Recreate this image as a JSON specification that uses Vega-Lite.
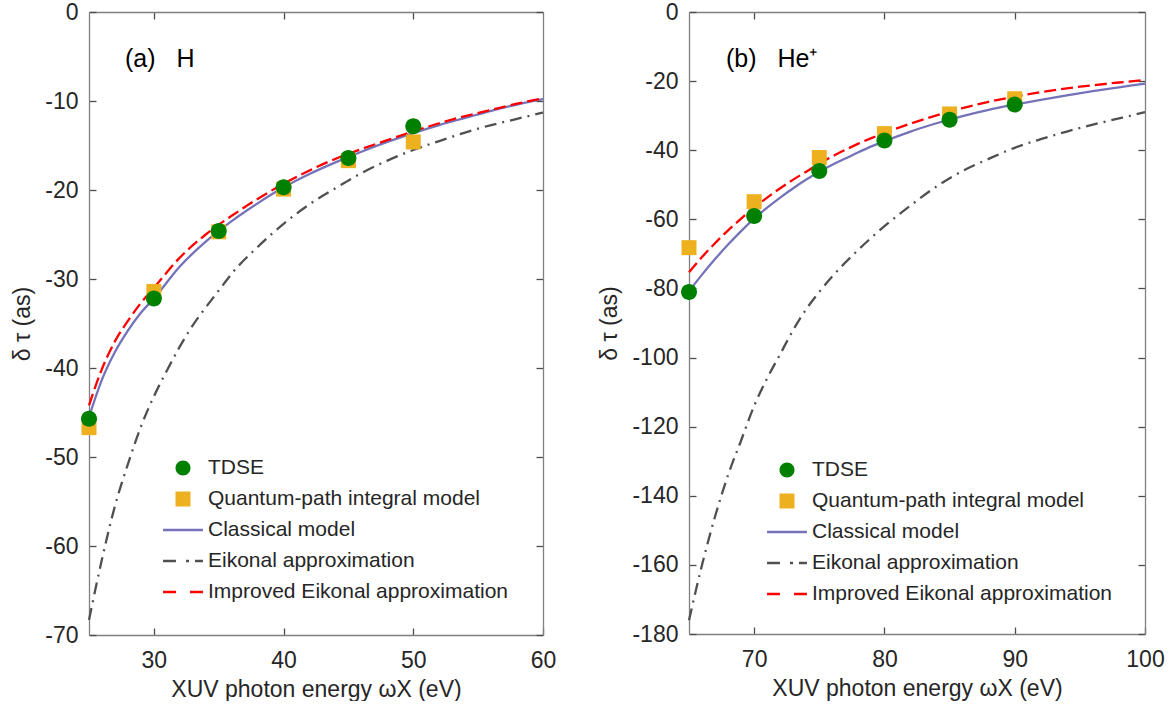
{
  "$schema": "https://vega.github.io/schema/vega-lite/v6.json",
  "padding": {"left": 11, "top": 1, "right": 0, "bottom": 0},
  "spacing": 42,
  "config": {
    "font": "Liberation Sans",
    "view": {"stroke": null},
    "axis": {
      "grid": false,
      "domainColor": "#808080",
      "domainWidth": 1.3,
      "tickColor": "#4d4d4d",
      "tickWidth": 1.3,
      "tickSize": -7,
      "labelFontSize": 23,
      "titleFontSize": 23,
      "titleFontWeight": "normal",
      "labelColor": "#262626",
      "titleColor": "#262626",
      "labelFlush": false,
      "labelOverlap": false,
      "labelExpr": "'' + datum.value"
    },
    "legend": {
      "title": null,
      "symbolSize": 900,
      "symbolStrokeWidth": 0,
      "symbolOpacity": 1,
      "labelFontSize": 21,
      "labelColor": "#262626",
      "labelOffset": 10,
      "rowPadding": 6,
      "labelLimit": 400
    },
    "title": {"fontSize": 25, "fontWeight": "normal", "color": "#000000", "anchor": "start", "frame": "group"}
  },
  "datasets": {
    "H": [
      {"x": 25, "y": -45.7, "s": "TDSE"}, {"x": 30, "y": -32.2, "s": "TDSE"}, {"x": 35, "y": -24.6, "s": "TDSE"}, {"x": 40, "y": -19.7, "s": "TDSE"}, {"x": 45, "y": -16.4, "s": "TDSE"}, {"x": 50, "y": -12.85, "s": "TDSE"},
      {"x": 25, "y": -46.7, "s": "Quantum-path integral model"}, {"x": 30, "y": -31.4, "s": "Quantum-path integral model"}, {"x": 35, "y": -24.7, "s": "Quantum-path integral model"}, {"x": 40, "y": -19.9, "s": "Quantum-path integral model"}, {"x": 45, "y": -16.7, "s": "Quantum-path integral model"}, {"x": 50, "y": -14.6, "s": "Quantum-path integral model"},
      {"x": 25, "y": -45.5, "s": "Classical model"}, {"x": 26, "y": -41.3, "s": "Classical model"}, {"x": 27, "y": -38.2, "s": "Classical model"}, {"x": 28, "y": -35.8, "s": "Classical model"}, {"x": 29, "y": -33.8, "s": "Classical model"}, {"x": 30, "y": -32.2, "s": "Classical model"}, {"x": 32, "y": -28.6, "s": "Classical model"}, {"x": 34, "y": -25.8, "s": "Classical model"}, {"x": 35, "y": -24.6, "s": "Classical model"}, {"x": 36, "y": -23.5, "s": "Classical model"}, {"x": 38, "y": -21.5, "s": "Classical model"}, {"x": 40, "y": -19.7, "s": "Classical model"}, {"x": 42, "y": -18.2, "s": "Classical model"}, {"x": 44, "y": -16.9, "s": "Classical model"}, {"x": 46, "y": -15.7, "s": "Classical model"}, {"x": 48, "y": -14.6, "s": "Classical model"}, {"x": 50, "y": -13.6, "s": "Classical model"}, {"x": 52, "y": -12.7, "s": "Classical model"}, {"x": 54, "y": -11.9, "s": "Classical model"}, {"x": 56, "y": -11.1, "s": "Classical model"}, {"x": 58, "y": -10.4, "s": "Classical model"}, {"x": 60, "y": -9.8, "s": "Classical model"},
      {"x": 25, "y": -68.3, "s": "Eikonal approximation"}, {"x": 26, "y": -61.5, "s": "Eikonal approximation"}, {"x": 27, "y": -55.5, "s": "Eikonal approximation"}, {"x": 28, "y": -50.8, "s": "Eikonal approximation"}, {"x": 29, "y": -46.6, "s": "Eikonal approximation"}, {"x": 30, "y": -43.2, "s": "Eikonal approximation"}, {"x": 31, "y": -40.3, "s": "Eikonal approximation"}, {"x": 32, "y": -37.6, "s": "Eikonal approximation"}, {"x": 33, "y": -35.2, "s": "Eikonal approximation"}, {"x": 34, "y": -33.2, "s": "Eikonal approximation"}, {"x": 35, "y": -31.3, "s": "Eikonal approximation"}, {"x": 36, "y": -29.4, "s": "Eikonal approximation"}, {"x": 38, "y": -26.4, "s": "Eikonal approximation"}, {"x": 40, "y": -23.8, "s": "Eikonal approximation"}, {"x": 42, "y": -21.6, "s": "Eikonal approximation"}, {"x": 44, "y": -19.8, "s": "Eikonal approximation"}, {"x": 46, "y": -18.1, "s": "Eikonal approximation"}, {"x": 48, "y": -16.7, "s": "Eikonal approximation"}, {"x": 50, "y": -15.5, "s": "Eikonal approximation"}, {"x": 52, "y": -14.5, "s": "Eikonal approximation"}, {"x": 55, "y": -13.1, "s": "Eikonal approximation"}, {"x": 58, "y": -12.0, "s": "Eikonal approximation"}, {"x": 60, "y": -11.3, "s": "Eikonal approximation"},
      {"x": 25, "y": -44.2, "s": "Improved Eikonal approximation"}, {"x": 26, "y": -40.1, "s": "Improved Eikonal approximation"}, {"x": 27, "y": -37.0, "s": "Improved Eikonal approximation"}, {"x": 28, "y": -34.7, "s": "Improved Eikonal approximation"}, {"x": 29, "y": -32.7, "s": "Improved Eikonal approximation"}, {"x": 30, "y": -31.0, "s": "Improved Eikonal approximation"}, {"x": 32, "y": -27.6, "s": "Improved Eikonal approximation"}, {"x": 34, "y": -25.0, "s": "Improved Eikonal approximation"}, {"x": 35, "y": -23.9, "s": "Improved Eikonal approximation"}, {"x": 36, "y": -22.9, "s": "Improved Eikonal approximation"}, {"x": 38, "y": -21.0, "s": "Improved Eikonal approximation"}, {"x": 40, "y": -19.3, "s": "Improved Eikonal approximation"}, {"x": 42, "y": -17.8, "s": "Improved Eikonal approximation"}, {"x": 44, "y": -16.5, "s": "Improved Eikonal approximation"}, {"x": 46, "y": -15.4, "s": "Improved Eikonal approximation"}, {"x": 48, "y": -14.4, "s": "Improved Eikonal approximation"}, {"x": 50, "y": -13.4, "s": "Improved Eikonal approximation"}, {"x": 52, "y": -12.5, "s": "Improved Eikonal approximation"}, {"x": 54, "y": -11.7, "s": "Improved Eikonal approximation"}, {"x": 56, "y": -11.0, "s": "Improved Eikonal approximation"}, {"x": 58, "y": -10.3, "s": "Improved Eikonal approximation"}, {"x": 60, "y": -9.7, "s": "Improved Eikonal approximation"}
    ],
    "He": [
      {"x": 65, "y": -81.0, "s": "TDSE"}, {"x": 70, "y": -59.0, "s": "TDSE"}, {"x": 75, "y": -46.0, "s": "TDSE"}, {"x": 80, "y": -37.2, "s": "TDSE"}, {"x": 85, "y": -31.2, "s": "TDSE"}, {"x": 90, "y": -26.8, "s": "TDSE"},
      {"x": 65, "y": -68.2, "s": "Quantum-path integral model"}, {"x": 70, "y": -54.9, "s": "Quantum-path integral model"}, {"x": 75, "y": -42.1, "s": "Quantum-path integral model"}, {"x": 80, "y": -35.2, "s": "Quantum-path integral model"}, {"x": 85, "y": -29.5, "s": "Quantum-path integral model"}, {"x": 90, "y": -25.1, "s": "Quantum-path integral model"},
      {"x": 65, "y": -80.8, "s": "Classical model"}, {"x": 66, "y": -76.0, "s": "Classical model"}, {"x": 67, "y": -71.5, "s": "Classical model"}, {"x": 68, "y": -67.3, "s": "Classical model"}, {"x": 69, "y": -63.4, "s": "Classical model"}, {"x": 70, "y": -59.8, "s": "Classical model"}, {"x": 71, "y": -56.6, "s": "Classical model"}, {"x": 72, "y": -53.7, "s": "Classical model"}, {"x": 73, "y": -51.0, "s": "Classical model"}, {"x": 74, "y": -48.5, "s": "Classical model"}, {"x": 75, "y": -46.2, "s": "Classical model"}, {"x": 76, "y": -44.2, "s": "Classical model"}, {"x": 77, "y": -42.4, "s": "Classical model"}, {"x": 78, "y": -40.6, "s": "Classical model"}, {"x": 79, "y": -38.9, "s": "Classical model"}, {"x": 80, "y": -37.4, "s": "Classical model"}, {"x": 82, "y": -34.6, "s": "Classical model"}, {"x": 84, "y": -32.2, "s": "Classical model"}, {"x": 86, "y": -30.1, "s": "Classical model"}, {"x": 88, "y": -28.3, "s": "Classical model"}, {"x": 90, "y": -26.8, "s": "Classical model"}, {"x": 92, "y": -25.4, "s": "Classical model"}, {"x": 94, "y": -24.1, "s": "Classical model"}, {"x": 96, "y": -22.9, "s": "Classical model"}, {"x": 98, "y": -21.8, "s": "Classical model"}, {"x": 100, "y": -20.7, "s": "Classical model"},
      {"x": 65, "y": -176.0, "s": "Eikonal approximation"}, {"x": 66, "y": -160.0, "s": "Eikonal approximation"}, {"x": 67, "y": -146.0, "s": "Eikonal approximation"}, {"x": 68, "y": -134.0, "s": "Eikonal approximation"}, {"x": 69, "y": -124.0, "s": "Eikonal approximation"}, {"x": 70, "y": -114.0, "s": "Eikonal approximation"}, {"x": 71, "y": -106.0, "s": "Eikonal approximation"}, {"x": 72, "y": -99.0, "s": "Eikonal approximation"}, {"x": 73, "y": -92.0, "s": "Eikonal approximation"}, {"x": 74, "y": -86.0, "s": "Eikonal approximation"}, {"x": 75, "y": -81.0, "s": "Eikonal approximation"}, {"x": 76, "y": -76.5, "s": "Eikonal approximation"}, {"x": 77, "y": -72.5, "s": "Eikonal approximation"}, {"x": 78, "y": -68.8, "s": "Eikonal approximation"}, {"x": 79, "y": -65.3, "s": "Eikonal approximation"}, {"x": 80, "y": -62.0, "s": "Eikonal approximation"}, {"x": 82, "y": -56.0, "s": "Eikonal approximation"}, {"x": 84, "y": -50.5, "s": "Eikonal approximation"}, {"x": 86, "y": -46.0, "s": "Eikonal approximation"}, {"x": 88, "y": -42.5, "s": "Eikonal approximation"}, {"x": 90, "y": -39.3, "s": "Eikonal approximation"}, {"x": 92, "y": -36.8, "s": "Eikonal approximation"}, {"x": 94, "y": -34.6, "s": "Eikonal approximation"}, {"x": 96, "y": -32.6, "s": "Eikonal approximation"}, {"x": 98, "y": -30.8, "s": "Eikonal approximation"}, {"x": 100, "y": -29.0, "s": "Eikonal approximation"},
      {"x": 65, "y": -75.3, "s": "Improved Eikonal approximation"}, {"x": 66, "y": -70.9, "s": "Improved Eikonal approximation"}, {"x": 67, "y": -66.9, "s": "Improved Eikonal approximation"}, {"x": 68, "y": -63.2, "s": "Improved Eikonal approximation"}, {"x": 69, "y": -59.8, "s": "Improved Eikonal approximation"}, {"x": 70, "y": -56.6, "s": "Improved Eikonal approximation"}, {"x": 71, "y": -53.7, "s": "Improved Eikonal approximation"}, {"x": 72, "y": -51.0, "s": "Improved Eikonal approximation"}, {"x": 73, "y": -48.5, "s": "Improved Eikonal approximation"}, {"x": 74, "y": -46.2, "s": "Improved Eikonal approximation"}, {"x": 75, "y": -43.9, "s": "Improved Eikonal approximation"}, {"x": 76, "y": -41.8, "s": "Improved Eikonal approximation"}, {"x": 77, "y": -39.9, "s": "Improved Eikonal approximation"}, {"x": 78, "y": -38.1, "s": "Improved Eikonal approximation"}, {"x": 79, "y": -36.5, "s": "Improved Eikonal approximation"}, {"x": 80, "y": -35.0, "s": "Improved Eikonal approximation"}, {"x": 82, "y": -32.3, "s": "Improved Eikonal approximation"}, {"x": 84, "y": -29.9, "s": "Improved Eikonal approximation"}, {"x": 86, "y": -27.8, "s": "Improved Eikonal approximation"}, {"x": 88, "y": -26.0, "s": "Improved Eikonal approximation"}, {"x": 90, "y": -24.5, "s": "Improved Eikonal approximation"}, {"x": 92, "y": -23.2, "s": "Improved Eikonal approximation"}, {"x": 94, "y": -22.1, "s": "Improved Eikonal approximation"}, {"x": 96, "y": -21.2, "s": "Improved Eikonal approximation"}, {"x": 98, "y": -20.4, "s": "Improved Eikonal approximation"}, {"x": 100, "y": -19.7, "s": "Improved Eikonal approximation"}
    ]
  },
  "hconcat": [
    {
      "width": 454,
      "height": 623,
      "data": {"name": "H"},
      "title": {"text": "(a)\u00a0\u00a0\u00a0H", "dx": 36, "offset": -71},
      "layer": [
        {
          "transform": [{"filter": "datum.s === 'Classical model'"}],
          "mark": {"type": "line", "color": "#7472B9", "strokeWidth": 2.3, "interpolate": "monotone"},
          "encoding": {
            "x": {"field": "x", "type": "quantitative", "scale": {"domain": [25, 60], "nice": false, "zero": false}, "axis": {"orient": "bottom", "values": [30, 40, 50, 60], "title": "XUV photon energy ωX (eV)", "labelPadding": 21, "titlePadding": 6}},
            "y": {"field": "y", "type": "quantitative", "scale": {"domain": [-70, 0], "nice": false, "zero": false}, "axis": {"orient": "left", "values": [-70, -60, -50, -40, -30, -20, -10, 0], "title": "δ τ (as)", "labelPadding": 18, "titlePadding": 10}}
          }
        },
        {
          "transform": [{"filter": "datum.s === 'Improved Eikonal approximation'"}],
          "mark": {"type": "line", "color": "#FF0000", "strokeWidth": 2.3, "strokeDash": [12, 5], "interpolate": "monotone"},
          "encoding": {
            "x": {"field": "x", "type": "quantitative", "axis": {"orient": "top", "values": [30, 40, 50], "labels": false, "title": null}},
            "y": {"field": "y", "type": "quantitative", "axis": {"orient": "right", "values": [-70, -60, -50, -40, -30, -20, -10, 0], "labels": false, "title": null}}
          }
        },
        {
          "transform": [{"filter": "datum.s === 'Eikonal approximation'"}],
          "mark": {"type": "line", "color": "#505050", "strokeWidth": 2.3, "strokeDash": [12, 6, 2, 6], "interpolate": "monotone"},
          "encoding": {
            "x": {"field": "x", "type": "quantitative", "axis": null},
            "y": {"field": "y", "type": "quantitative", "axis": null}
          }
        },
        {
          "transform": [{"filter": "datum.s === 'Quantum-path integral model'"}],
          "mark": {"type": "point", "filled": true, "opacity": 1, "size": 900},
          "encoding": {
            "x": {"field": "x", "type": "quantitative", "axis": null},
            "y": {"field": "y", "type": "quantitative", "axis": null},
            "color": {"field": "s", "type": "nominal", "scale": {"domain": ["TDSE", "Quantum-path integral model", "Classical model", "Eikonal approximation", "Improved Eikonal approximation"], "range": ["#008000", "#EDB120", "#7472B9", "#505050", "#FF0000"]}, "legend": {"orient": "none", "legendX": 79, "legendY": 441}},
            "shape": {"field": "s", "type": "nominal", "scale": {"domain": ["TDSE", "Quantum-path integral model", "Classical model", "Eikonal approximation", "Improved Eikonal approximation"], "range": ["M0.5,0A0.5,0.5,0,1,1,-0.5,0A0.5,0.5,0,1,1,0.5,0Z", "M-0.5,-0.5H0.5V0.5H-0.5Z", "M-1.33,-0.08H1.33V0.08H-1.33Z", "M-1.33,-0.08H-0.47V0.08H-1.33Z M0.2,-0.08H0.4V0.08H0.2Z M0.8,-0.08H1.33V0.08H0.8Z", "M-1.33,-0.08H-0.47V0.08H-1.33Z M0.47,-0.08H1.33V0.08H0.47Z"]}, "legend": {"orient": "none", "legendX": 79, "legendY": 441}}
          }
        },
        {
          "transform": [{"filter": "datum.s === 'TDSE'"}],
          "mark": {"type": "point", "filled": true, "opacity": 1, "size": 1024},
          "encoding": {
            "x": {"field": "x", "type": "quantitative", "axis": null},
            "y": {"field": "y", "type": "quantitative", "axis": null},
            "color": {"field": "s", "type": "nominal"},
            "shape": {"field": "s", "type": "nominal"}
          }
        }
      ],
      "resolve": {"axis": {"x": "independent", "y": "independent"}}
    },
    {
      "width": 456,
      "height": 622,
      "data": {"name": "He"},
      "title": {"text": "(b)\u00a0\u00a0\u00a0He⁺", "dx": 37, "offset": -71},
      "layer": [
        {
          "transform": [{"filter": "datum.s === 'Classical model'"}],
          "mark": {"type": "line", "color": "#7472B9", "strokeWidth": 2.3, "interpolate": "monotone"},
          "encoding": {
            "x": {"field": "x", "type": "quantitative", "scale": {"domain": [65, 100], "nice": false, "zero": false}, "axis": {"orient": "bottom", "values": [70, 80, 90, 100], "title": "XUV photon energy ωX (eV)", "labelPadding": 21, "titlePadding": 6}},
            "y": {"field": "y", "type": "quantitative", "scale": {"domain": [-180, 0], "nice": false, "zero": false}, "axis": {"orient": "left", "values": [-180, -160, -140, -120, -100, -80, -60, -40, -20, 0], "title": "δ τ (as)", "labelPadding": 18, "titlePadding": 10}}
          }
        },
        {
          "transform": [{"filter": "datum.s === 'Improved Eikonal approximation'"}],
          "mark": {"type": "line", "color": "#FF0000", "strokeWidth": 2.3, "strokeDash": [12, 5], "interpolate": "monotone"},
          "encoding": {
            "x": {"field": "x", "type": "quantitative", "axis": {"orient": "top", "values": [70, 80, 90], "labels": false, "title": null}},
            "y": {"field": "y", "type": "quantitative", "axis": {"orient": "right", "values": [-180, -160, -140, -120, -100, -80, -60, -40, -20, 0], "labels": false, "title": null}}
          }
        },
        {
          "transform": [{"filter": "datum.s === 'Eikonal approximation'"}],
          "mark": {"type": "line", "color": "#505050", "strokeWidth": 2.3, "strokeDash": [12, 6, 2, 6], "interpolate": "monotone"},
          "encoding": {
            "x": {"field": "x", "type": "quantitative", "axis": null},
            "y": {"field": "y", "type": "quantitative", "axis": null}
          }
        },
        {
          "transform": [{"filter": "datum.s === 'Quantum-path integral model'"}],
          "mark": {"type": "point", "filled": true, "opacity": 1, "size": 900},
          "encoding": {
            "x": {"field": "x", "type": "quantitative", "axis": null},
            "y": {"field": "y", "type": "quantitative", "axis": null},
            "color": {"field": "s", "type": "nominal", "scale": {"domain": ["TDSE", "Quantum-path integral model", "Classical model", "Eikonal approximation", "Improved Eikonal approximation"], "range": ["#008000", "#EDB120", "#7472B9", "#505050", "#FF0000"]}, "legend": {"orient": "none", "legendX": 83, "legendY": 443}},
            "shape": {"field": "s", "type": "nominal", "scale": {"domain": ["TDSE", "Quantum-path integral model", "Classical model", "Eikonal approximation", "Improved Eikonal approximation"], "range": ["M0.5,0A0.5,0.5,0,1,1,-0.5,0A0.5,0.5,0,1,1,0.5,0Z", "M-0.5,-0.5H0.5V0.5H-0.5Z", "M-1.33,-0.08H1.33V0.08H-1.33Z", "M-1.33,-0.08H-0.47V0.08H-1.33Z M0.2,-0.08H0.4V0.08H0.2Z M0.8,-0.08H1.33V0.08H0.8Z", "M-1.33,-0.08H-0.47V0.08H-1.33Z M0.47,-0.08H1.33V0.08H0.47Z"]}, "legend": {"orient": "none", "legendX": 83, "legendY": 443}}
          }
        },
        {
          "transform": [{"filter": "datum.s === 'TDSE'"}],
          "mark": {"type": "point", "filled": true, "opacity": 1, "size": 1024},
          "encoding": {
            "x": {"field": "x", "type": "quantitative", "axis": null},
            "y": {"field": "y", "type": "quantitative", "axis": null},
            "color": {"field": "s", "type": "nominal"},
            "shape": {"field": "s", "type": "nominal"}
          }
        }
      ],
      "resolve": {"axis": {"x": "independent", "y": "independent"}}
    }
  ],
  "resolve": {"scale": {"color": "independent", "shape": "independent"}, "legend": {"color": "independent", "shape": "independent"}}
}
